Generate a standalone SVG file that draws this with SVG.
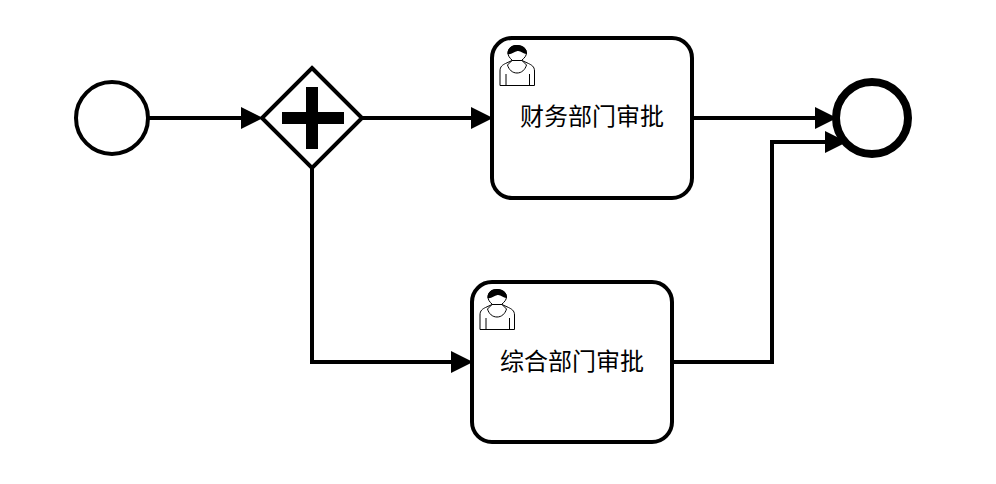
<svg xmlns="http://www.w3.org/2000/svg" width="996" height="484" viewBox="0 0 996 484">
<style>
.task{fill:#fff;stroke:#000;stroke-width:4}
.ev{fill:#fff;stroke:#000}
.flow{fill:none;stroke:#000;stroke-width:4;stroke-linejoin:miter}
.arr{fill:#000;stroke:none}
.lbl{font-family:"Liberation Sans","Noto Sans CJK SC",sans-serif;font-size:24px;fill:#000;text-anchor:middle}
.u{fill:#fff;stroke:#000;stroke-width:1}
</style>
<defs>
<g id="user">
<path class="u" d="M0.500 40.500V26C0.500 21.500 3 20 6 18.500L12.500 15.500L22.500 15.500L29 18.500C32 20 35 21.500 35 26V40.500Z"/>
<path class="u" d="M12.500 15C10 13 8.500 10.500 8.500 8C8.500 3 12.500 0.500 17.500 0.500C23 0.500 27 3.500 27 8C27 10.500 25 13 22.500 15"/>
<path class="u" d="M8 20C9.500 25 13 28 17.500 28C22 28 25.500 25 27 20"/>
<path class="u" d="M12.500 15.500L8 20M22.500 15.500L27 20"/>
<path class="u" d="M6.500 40.500V29M30 40.500V29"/>
<path fill="#000" d="M8 9C8 3 12 0 17.500 0C23.500 0 27.500 3.500 27.500 9C24 9.500 21.500 5.500 18 6C14.500 6.500 12 10 8 9Z"/>
</g>
</defs>
<rect width="996" height="484" fill="#fff"/>
<g id="connectors">
<path class="flow" d="M148 118H244"/><path class="arr" d="M241 107L263 118L241 129Z"/>
<path class="flow" d="M362 118H474"/><path class="arr" d="M471 107L493 118L471 129Z"/>
<path class="flow" d="M312 168V362H454"/><path class="arr" d="M451 351L473 362L451 373Z"/>
<path class="flow" d="M692 118H817"/><path class="arr" d="M815 107L837 118L815 129Z"/>
<path class="flow" d="M672 362H772V142H827"/><path class="arr" d="M825 131L847 142L825 153Z"/>
</g>
<g id="start"><circle class="ev" stroke-width="4" cx="112" cy="118" r="36"/></g>
<g id="gateway">
<path class="task" d="M312 68L362 118L312 168L262 118Z"/>
<path fill="#000" d="M306 87H318V112H344V124H318V149H306V124H282V112H306Z"/>
</g>
<g id="task1">
<rect class="task" x="492" y="38" width="200" height="160" rx="20" ry="20"/>
<use href="#user" x="499.500" y="45"/>
<text class="lbl" x="592" y="125">财务部门审批</text>
</g>
<g id="task2">
<rect class="task" x="472" y="282" width="200" height="160" rx="20" ry="20"/>
<use href="#user" x="479.500" y="289"/>
<text class="lbl" x="572" y="370">综合部门审批</text>
</g>
<g id="end"><circle class="ev" stroke-width="8" cx="872" cy="118" r="36"/></g>
</svg>
